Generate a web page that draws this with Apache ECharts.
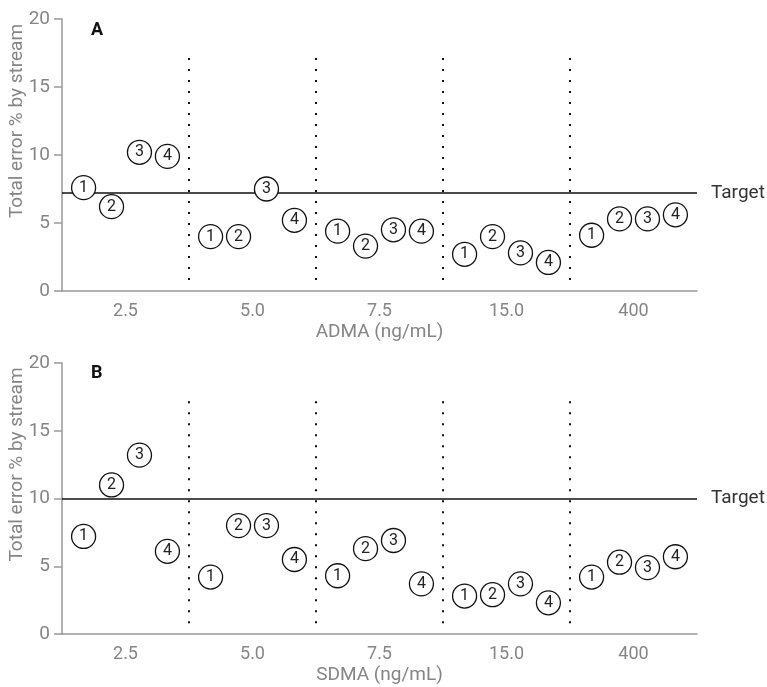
<!DOCTYPE html>
<html>
<head>
<meta charset="utf-8">
<script src="https://cdn.jsdelivr.net/npm/echarts@6/dist/echarts.min.js"></script>
<style>
html,body{margin:0;padding:0;background:#fff;}
#chart{width:767px;height:687px;}
</style>
</head>
<body>
<div id="chart"></div>
<script>
// ---- data ----
const categories = ['2.5', '5.0', '7.5', '15.0', '400'];
const streams = [1, 2, 3, 4];
const yTicks = [0, 5, 10, 15, 20];

const admaStream1 = [7.6, 4.0, 4.4, 2.7, 4.1];
const admaStream2 = [6.2, 4.0, 3.3, 4.0, 5.3];
const admaStream3 = [10.2, 7.5, 4.5, 2.8, 5.3];
const admaStream4 = [9.9, 5.2, 4.4, 2.1, 5.6];
const admaTarget = 7.2;

const sdmaStream1 = [7.2, 4.2, 4.3, 2.8, 4.2];
const sdmaStream2 = [11.0, 8.0, 6.3, 2.9, 5.3];
const sdmaStream3 = [13.2, 8.0, 6.9, 3.7, 4.9];
const sdmaStream4 = [6.1, 5.5, 3.7, 2.3, 5.7];
const sdmaTarget = 10;

const panels = [
  { label: 'A', axisName: 'ADMA (ng/mL)', values: [admaStream1, admaStream2, admaStream3, admaStream4], target: admaTarget },
  { label: 'B', axisName: 'SDMA (ng/mL)', values: [sdmaStream1, sdmaStream2, sdmaStream3, sdmaStream4], target: sdmaTarget }
];

// ---- layout ----
const grids = [
  { left: 62, top: 19, width: 635, height: 272, containLabel: false, outerBoundsMode: 'none' },
  { left: 62, top: 363, width: 635, height: 271, containLabel: false, outerBoundsMode: 'none' }
];
const streamOffset = 0.22; // spacing of streams within a category band
const gray = '#858585';
const font = 'Roboto, "Noto Sans", sans-serif';

const option = {
  animation: false,
  backgroundColor: '#fff',
  textStyle: { fontFamily: font },
  title: panels.map((p, i) => ({
    text: p.label,
    left: 86,
    top: i === 0 ? 16 : 359,
    textStyle: { fontSize: 18, fontWeight: 'bold', color: '#111', fontFamily: font }
  })),
  grid: grids,
  xAxis: [],
  yAxis: [],
  series: []
};

panels.forEach((p, gi) => {
  // visible category axis
  option.xAxis.push({
    type: 'category',
    gridIndex: gi,
    data: categories,
    boundaryGap: true,
    name: p.axisName,
    nameLocation: 'middle',
    nameGap: 32,
    nameTextStyle: { fontSize: 19, color: gray, fontFamily: font },
    axisLine: { onZero: false, lineStyle: { color: '#999', width: 1.5 } },
    axisTick: { alignWithLabel: true, length: 6, lineStyle: { color: '#999', width: 1.5 } },
    axisLabel: { fontSize: 18, color: gray, margin: 11, fontFamily: font },
    splitLine: { show: false }
  });
  // hidden value axis for positioning the markers within bands
  option.xAxis.push({
    type: 'value',
    gridIndex: gi,
    min: -0.5,
    max: categories.length - 0.5,
    show: false
  });
  option.yAxis.push({
    type: 'value',
    gridIndex: gi,
    min: yTicks[0],
    max: yTicks[yTicks.length - 1],
    interval: 5,
    name: 'Total error % by stream',
    nameLocation: 'middle',
    nameGap: 35,
    nameMoveOverlap: false,
    nameRotate: 90,
    nameTextStyle: { fontSize: 19, color: gray, fontFamily: font, padding: [0, 0, 0, 68] },
    axisLine: { show: true, onZero: false, lineStyle: { color: '#999', width: 1.5 } },
    axisTick: { show: true, length: 8, lineStyle: { color: '#999', width: 1.5 } },
    axisLabel: { fontSize: 19, color: gray, margin: 12, fontFamily: font },
    splitLine: { show: false }
  });

  const valueAxisIndex = gi * 2 + 1;

  // dotted separators between concentration groups
  const separators = [];
  for (let c = 0; c < categories.length - 1; c++) {
    separators.push([
      { coord: [c + 0.5, 0.8], label: { show: false }, lineStyle: { color: '#111', width: 2, type: [2, 9] } },
      { coord: [c + 0.5, 17.8] }
    ]);
  }
  option.series.push({
    type: 'line',
    xAxisIndex: valueAxisIndex,
    yAxisIndex: gi,
    data: [],
    silent: true,
    markLine: {
      symbol: 'none',
      silent: true,
      animation: false,
      data: [
        [
          {
            coord: [-0.5, p.target],
            label: { show: true, position: 'end', formatter: 'Target', distance: 14, fontSize: 19, color: '#333', fontFamily: font },
            lineStyle: { color: '#111', width: 1.5, type: 'solid' }
          },
          { coord: [categories.length - 0.5, p.target] }
        ]
      ].concat(separators)
    }
  });

  // markers per stream
  streams.forEach((s, si) => {
    const vals = p.values[si];
    option.series.push({
      type: 'scatter',
      name: 'Stream ' + s,
      xAxisIndex: valueAxisIndex,
      yAxisIndex: gi,
      symbol: 'circle',
      symbolSize: 24,
      data: vals.map((v, ci) => [ci + (si - 1.5) * streamOffset, v]),
      itemStyle: { color: '#fff', borderColor: '#111', borderWidth: 1.3, opacity: 1 },
      label: {
        show: true,
        position: 'inside',
        formatter: String(s),
        fontSize: 16,
        color: '#222',
        fontFamily: font
      },
      z: 5
    });
  });
});

const chart = echarts.init(document.getElementById('chart'), null, { renderer: 'canvas' });
chart.setOption(option);
</script>
</body>
</html>
